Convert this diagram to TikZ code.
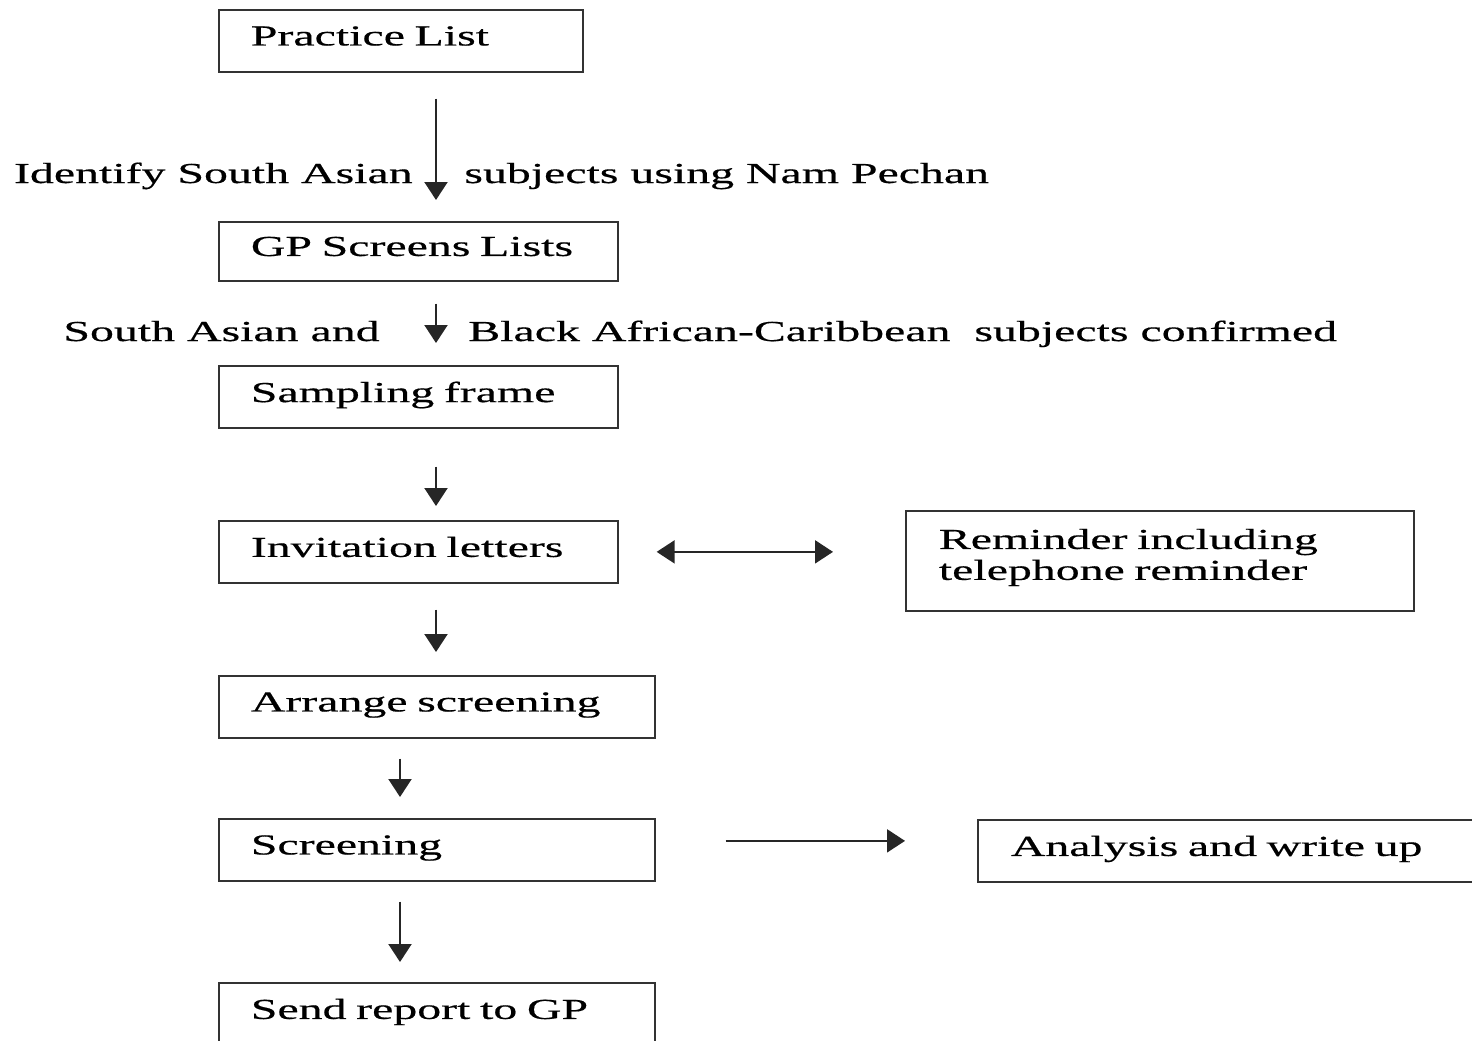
\documentclass[tikz,border=0pt]{standalone}
\usepackage{fontspec}
\setmainfont{Liberation Serif}[FakeStretch=1.65, FakeBold=0.5]
\usepackage{tikz}
\usetikzlibrary{arrows.meta, positioning}
\newcommand{\flowfont}{\fontsize{16.5}{17.6}\selectfont}
\tikzset{
  stage/.style={rectangle, draw=black!80, line width=1pt, anchor=north west, align=left,
                inner xsep=0.64cm, inner ysep=0pt, font=\flowfont, text depth=0.57em},
  lbl/.style={inner sep=0pt, font=\flowfont},
  arrowline/.style={-{Triangle[length=0.36cm, width=0.46cm]}, line width=1.2pt, black!85},
  twoway/.style={{Triangle[length=0.36cm, width=0.46cm]}-{Triangle[length=0.36cm, width=0.46cm]}, line width=1.2pt, black!85},
}

\begin{document}
\begin{tikzpicture}[x=0.02cm, y=-0.02cm]
\clip (0,0) rectangle (1472,1041);
% main column
\node[stage, text width=6cm, minimum height=1.24cm] (plist) at (218,9) {Practice List};
\node[stage, text width=6.7cm, minimum height=1.18cm] (gplist) at (218,221) {GP Screens Lists};
\node[stage, text width=6.7cm, minimum height=1.24cm] (frame) at (218,365) {Sampling frame};
\node[stage, text width=6.7cm, minimum height=1.24cm] (invite) at (218,520) {Invitation letters};
\node[stage, text width=7.44cm, minimum height=1.24cm] (arrange) at (218,675) {Arrange screening};
\node[stage, text width=7.44cm, minimum height=1.24cm] (screen) at (218,818) {Screening};
\node[stage, text width=7.44cm, minimum height=1.24cm] (report) at (218,982) {Send report to GP};
% side boxes
\node[stage, inner xsep=0.66cm, text width=8.84cm, minimum height=2cm, text depth=2.5em] (remind) at (905,510) {Reminder including\\telephone reminder};
\node[stage, inner xsep=0.66cm, text width=9cm, minimum height=1.24cm] (analysis) at (977,819) {Analysis and write up};

% labels beside the first two arrows
\node[lbl, anchor=base east] (idsa) at (413,183) {Identify South Asian};
\node[lbl, anchor=base west] (nampechan) at (464,183) {subjects using Nam Pechan};
\node[lbl, anchor=base east] (saand) at (380,341) {South Asian and};
\node[lbl, anchor=base west] (bac) at (468,341) {Black African-Caribbean\ \ subjects confirmed};

\coordinate (mid) at (436,0);
\coordinate (low) at (400,0);
\draw[arrowline, shorten <=0.52cm, shorten >=0.42cm] (plist.south -| mid) -- (gplist.north -| mid);
\draw[arrowline, shorten <=0.44cm, shorten >=0.44cm] (gplist.south -| mid) -- (frame.north -| mid);
\draw[arrowline, shorten <=0.76cm, shorten >=0.28cm] (frame.south -| mid) -- (invite.north -| mid);
\draw[arrowline, shorten <=0.52cm, shorten >=0.46cm] (invite.south -| mid) -- (arrange.north -| mid);
\draw[arrowline, shorten <=0.4cm, shorten >=0.42cm] (arrange.south -| low) -- (screen.north -| low);
\draw[arrowline, shorten <=0.4cm, shorten >=0.4cm] (screen.south -| low) -- (report.north -| low);
\draw[twoway, shorten <=0.76cm, shorten >=1.44cm] (invite.east) -- (invite.east -| remind.west);
\draw[arrowline, shorten <=1.4cm, shorten >=1.44cm] ([yshift=0.18cm]screen.east) -- ([yshift=0.18cm]screen.east -| analysis.west);
\end{tikzpicture}
\end{document}
